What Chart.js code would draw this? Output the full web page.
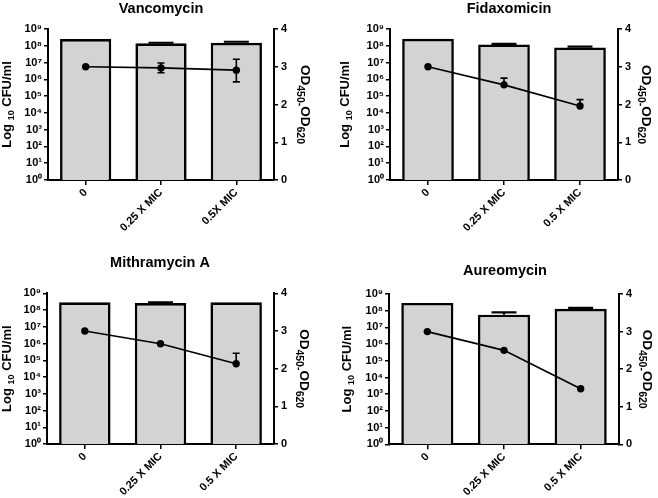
<!DOCTYPE html>
<html><head><meta charset="utf-8">
<script src="https://cdn.jsdelivr.net/npm/chart.js@4"></script>
<style>
html,body{margin:0;padding:0;background:#fff;}
#wrap{position:relative;width:658px;height:498px;overflow:hidden;background:#fff;}
canvas{position:absolute;}
</style></head><body>
<div id="wrap">
<canvas id="c1" width="330" height="250" style="left:0;top:0;width:330px;height:250px"></canvas>
<canvas id="c2" width="328" height="250" style="left:330px;top:0;width:328px;height:250px"></canvas>
<canvas id="c3" width="330" height="248" style="left:0;top:250px;width:330px;height:248px"></canvas>
<canvas id="c4" width="328" height="248" style="left:330px;top:250px;width:328px;height:248px"></canvas>
</div>
<script>
// ---- data ----
const categoriesVanco = ['0', '0.25 X MIC', '0.5X MIC'];
const categoriesOther = ['0', '0.25 X MIC', '0.5 X MIC'];
const cfuTicks = [1, 1e1, 1e2, 1e3, 1e4, 1e5, 1e6, 1e7, 1e8, 1e9];
const cfuTickLabels = ['10⁰', '10¹', '10²', '10³', '10⁴', '10⁵', '10⁶', '10⁷', '10⁸', '10⁹'];
const odMin = 0, odMax = 4, odStep = 1;

const vancoCfu = [2.5e8, 1.4e8, 1.5e8];
const vancoCfuErr = [0, 1.2e7, 2.4e7];
const vancoOd = [3.0, 2.97, 2.91];
const vancoOdErrUp = [0, 0.13, 0.29];
const vancoOdErrLow = [0, 0.13, 0.31];

const fidaCfu = [2.6e8, 1.2e8, 8.0e7];
const fidaCfuErr = [0, 1.0e7, 8.0e6];
const fidaOd = [3.0, 2.52, 1.96];
const fidaOdErrUp = [0, 0.18, 0.17];
const fidaOdErrLow = [0, 0, 0];

const mithraCfu = [2.9e8, 2.6e8, 2.9e8];
const mithraCfuErr = [0, 2.5e7, 0];
const mithraOd = [3.0, 2.66, 2.13];
const mithraOdErrUp = [0, 0, 0.28];
const mithraOdErrLow = [0, 0, 0];

const aureoCfu = [2.9e8, 5.8e7, 1.3e8];
const aureoCfuErr = [0, 2.1e7, 1.9e7];
const aureoOd = [3.0, 2.5, 1.48];
const aureoOdErrUp = [0, 0, 0];
const aureoOdErrLow = [0, 0, 0];

// ---- drawing ----
const FONT = "'Liberation Sans', Arial, Helvetica, sans-serif";

const errorBarPlugin = {
  id: 'errorBars',
  afterDatasetDraw(chart, args) {
    const ds = chart.data.datasets[args.index];
    if (!ds.errUp) return;
    const scale = chart.scales[ds.yAxisID];
    const ctx = chart.ctx;
    ctx.save();
    ctx.strokeStyle = '#000';
    args.meta.data.forEach((el, j) => {
      const v = ds.data[j];
      const up = ds.errUp[j] || 0;
      const lo = ds.errLow ? (ds.errLow[j] || 0) : 0;
      if (!up && !lo) return;
      const x = el.x;
      const yUp = scale.getPixelForValue(v + up);
      const yLo = lo ? scale.getPixelForValue(v - lo) : el.y;
      const half = ds.type === 'bar' ? 12.5 : 3.5;
      ctx.lineWidth = ds.type === 'bar' ? 2.2 : 1.6;
      ctx.beginPath();
      ctx.moveTo(x, yLo); ctx.lineTo(x, yUp);
      ctx.moveTo(x - half, yUp); ctx.lineTo(x + half, yUp);
      if (lo) { ctx.moveTo(x - half, yLo); ctx.lineTo(x + half, yLo); }
      ctx.stroke();
    });
    ctx.restore();
  }
};

function drawSegments(ctx, segs) {
  let total = 0;
  segs.forEach(s => { ctx.font = s.f; s.w = ctx.measureText(s.t).width; total += s.w; });
  let x = -total / 2;
  segs.forEach(s => { ctx.font = s.f; ctx.fillText(s.t, x, s.dy || 0); x += s.w; });
}

const panelTextPlugin = {
  id: 'panelText',
  afterDraw(chart, args, o) {
    const ctx = chart.ctx;
    const ca = chart.chartArea;
    const cy = (ca.top + ca.bottom) / 2;
    ctx.save();
    ctx.fillStyle = '#000';
    ctx.textAlign = 'center';
    ctx.textBaseline = 'middle';
    ctx.font = 'bold 14.5px ' + FONT;
    ctx.fillText(o.title, o.titleX, o.titleY);
    ctx.textAlign = 'left';
    ctx.textBaseline = 'alphabetic';
    // left axis title
    ctx.save();
    ctx.translate(o.lx, cy);
    ctx.rotate(-Math.PI / 2);
    drawSegments(ctx, [
      { t: 'Log ', f: 'bold 13px ' + FONT },
      { t: '10', f: 'bold 9px ' + FONT, dy: 3 },
      { t: ' CFU/ml', f: 'bold 13px ' + FONT }
    ]);
    ctx.restore();
    // right axis title
    ctx.save();
    ctx.translate(o.rx, cy);
    ctx.rotate(Math.PI / 2);
    drawSegments(ctx, [
      { t: 'OD', f: 'bold 13.5px ' + FONT },
      { t: '450-', f: 'bold 10.5px ' + FONT, dy: 4 },
      { t: 'OD', f: 'bold 13.5px ' + FONT },
      { t: '620', f: 'bold 10.5px ' + FONT, dy: 4 }
    ]);
    ctx.restore();
    ctx.restore();
  }
};

function makePanel(id, cats, cfu, cfuErr, od, odUp, odLow, g) {
  const axisGrid = (len) => ({ display: true, drawOnChartArea: false, drawTicks: true, tickLength: len, color: '#000', lineWidth: 1.5, offset: false });
  const border = { display: true, color: '#000', width: 2 };
  const tickFont = (sz) => ({ family: FONT, weight: 'bold', size: sz });
  return new Chart(document.getElementById(id), {
    data: {
      labels: cats,
      datasets: [
        {
          type: 'bar', data: cfu, errUp: cfuErr, yAxisID: 'y', order: 2,
          backgroundColor: '#d3d3d3', borderColor: '#000', borderWidth: 2.6, borderSkipped: 'bottom',
          barPercentage: 0.68, categoryPercentage: 1
        },
        {
          type: 'line', data: od, errUp: odUp, errLow: odLow, yAxisID: 'y1', order: 1,
          borderColor: '#000', borderWidth: 1.7, pointRadius: 3.7, pointBackgroundColor: '#000',
          pointBorderColor: '#000', pointBorderWidth: 0, tension: 0
        }
      ]
    },
    options: {
      responsive: false, animation: false, devicePixelRatio: 1,
      layout: { padding: { top: g.top, left: 0, right: 0, bottom: 0 } },
      plugins: {
        legend: { display: false }, title: { display: false }, tooltip: { enabled: false },
        panelText: { title: g.title, titleX: g.titleX, titleY: g.titleY, lx: g.lx, rx: g.rx }
      },
      scales: {
        x: {
          type: 'category', offset: true,
          grid: axisGrid(5), border: border,
          ticks: { color: '#000', font: tickFont(11), minRotation: 45, maxRotation: 45, autoSkip: false, padding: 1 },
          afterFit(s) { s.height = g.xH; }
        },
        y: {
          type: 'logarithmic', position: 'left', min: 1, max: 1e9,
          grid: axisGrid(4), border: border,
          afterBuildTicks(s) { s.ticks = cfuTicks.map(v => ({ value: v })); },
          ticks: { color: '#000', font: tickFont(11), padding: 2, autoSkip: false,
            callback: (v) => cfuTickLabels[cfuTicks.indexOf(v)] },
          afterFit(s) { s.width = g.leftW; }
        },
        y1: {
          type: 'linear', position: 'right', min: odMin, max: odMax,
          grid: axisGrid(4), border: border,
          ticks: { color: '#000', font: tickFont(11), stepSize: odStep, padding: 3 },
          afterFit(s) { s.width = g.rightW; }
        }
      }
    },
    plugins: [errorBarPlugin, panelTextPlugin]
  });
}

makePanel('c1', categoriesVanco, vancoCfu, vancoCfuErr, vancoOd, vancoOdErrUp, vancoOdErrLow,
  { title: 'Vancomycin', titleX: 161, titleY: 8.5, lx: 11, rx: 301, leftW: 48, rightW: 56, top: 29, xH: 70 });
makePanel('c2', categoriesOther, fidaCfu, fidaCfuErr, fidaOd, fidaOdErrUp, fidaOdErrLow,
  { title: 'Fidaxomicin', titleX: 179, titleY: 8.5, lx: 19, rx: 312, leftW: 60, rightW: 40, top: 29, xH: 70 });
makePanel('c3', categoriesOther, mithraCfu, mithraCfuErr, mithraOd, mithraOdErrUp, mithraOdErrLow,
  { title: 'Mithramycin A', titleX: 160, titleY: 13, lx: 11, rx: 300, leftW: 47, rightW: 56, top: 43.3, xH: 54 });
makePanel('c4', categoriesOther, aureoCfu, aureoCfuErr, aureoOd, aureoOdErrUp, aureoOdErrLow,
  { title: 'Aureomycin', titleX: 175, titleY: 20.5, lx: 21, rx: 313, leftW: 59, rightW: 39, top: 44, xH: 53.7 });
</script>
</body></html>
